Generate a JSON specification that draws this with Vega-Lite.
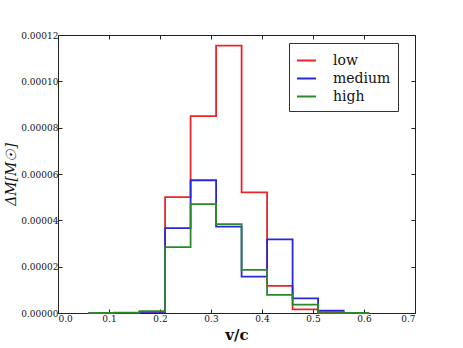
{
  "$schema": "https://vega.github.io/schema/vega-lite/v6.json",
  "autosize": "none",
  "width": 357,
  "height": 278,
  "padding": {"left": 58, "top": 35, "right": 48, "bottom": 35},
  "background": "white",
  "config": {
    "view": {"stroke": "#222", "strokeWidth": 1},
    "font": "DejaVu Serif"
  },
  "data": {
    "values": [
      {"series": "low", "i": 0, "x": 0.06, "y": 0},
      {"series": "low", "i": 1, "x": 0.06, "y": 0},
      {"series": "low", "i": 2, "x": 0.11, "y": 0},
      {"series": "low", "i": 3, "x": 0.16, "y": 0.0000005},
      {"series": "low", "i": 4, "x": 0.21, "y": 0.00005},
      {"series": "low", "i": 5, "x": 0.26, "y": 0.000085},
      {"series": "low", "i": 6, "x": 0.31, "y": 0.0001154},
      {"series": "low", "i": 7, "x": 0.36, "y": 0.0000521},
      {"series": "low", "i": 8, "x": 0.41, "y": 0.0000117},
      {"series": "low", "i": 9, "x": 0.46, "y": 0.0000016},
      {"series": "low", "i": 10, "x": 0.51, "y": 0},
      {"series": "low", "i": 11, "x": 0.56, "y": 0},
      {"series": "low", "i": 12, "x": 0.61, "y": 0},
      {"series": "medium", "i": 0, "x": 0.06, "y": 0},
      {"series": "medium", "i": 1, "x": 0.06, "y": 0},
      {"series": "medium", "i": 2, "x": 0.11, "y": 0},
      {"series": "medium", "i": 3, "x": 0.16, "y": 0.0000005},
      {"series": "medium", "i": 4, "x": 0.21, "y": 0.0000366},
      {"series": "medium", "i": 5, "x": 0.26, "y": 0.0000573},
      {"series": "medium", "i": 6, "x": 0.31, "y": 0.0000373},
      {"series": "medium", "i": 7, "x": 0.36, "y": 0.0000157},
      {"series": "medium", "i": 8, "x": 0.41, "y": 0.0000318},
      {"series": "medium", "i": 9, "x": 0.46, "y": 0.0000063},
      {"series": "medium", "i": 10, "x": 0.51, "y": 0.000001},
      {"series": "medium", "i": 11, "x": 0.56, "y": 0},
      {"series": "medium", "i": 12, "x": 0.61, "y": 0},
      {"series": "high", "i": 0, "x": 0.06, "y": 0},
      {"series": "high", "i": 1, "x": 0.06, "y": 0},
      {"series": "high", "i": 2, "x": 0.11, "y": 0.0000002},
      {"series": "high", "i": 3, "x": 0.16, "y": 0.0000008},
      {"series": "high", "i": 4, "x": 0.21, "y": 0.0000284},
      {"series": "high", "i": 5, "x": 0.26, "y": 0.000047},
      {"series": "high", "i": 6, "x": 0.31, "y": 0.0000384},
      {"series": "high", "i": 7, "x": 0.36, "y": 0.0000186},
      {"series": "high", "i": 8, "x": 0.41, "y": 0.0000078},
      {"series": "high", "i": 9, "x": 0.46, "y": 0.0000036},
      {"series": "high", "i": 10, "x": 0.51, "y": 0.0000005},
      {"series": "high", "i": 11, "x": 0.56, "y": 0},
      {"series": "high", "i": 12, "x": 0.61, "y": 0}
    ]
  },
  "layer": [
    {
      "mark": {"type": "line", "interpolate": "step-after", "strokeWidth": 1.8},
      "encoding": {
        "x": {
          "field": "x", "type": "quantitative",
          "scale": {"domain": [0, 0.7], "nice": false, "zero": false},
          "axis": {
            "values": [0, 0.1, 0.2, 0.3, 0.4, 0.5, 0.6, 0.7],
            "format": ".1f", "grid": false, "domain": false,
            "tickSize": -4, "tickColor": "#222", "labelPadding": 5,
            "labelFontSize": 9, "labelColor": "#111", "labelFont": "DejaVu Serif",
            "title": "v/c", "titleFont": "DejaVu Serif", "titleFontSize": 15,
            "titleFontWeight": "bold", "titleColor": "#111", "titlePadding": 4
          }
        },
        "y": {
          "field": "y", "type": "quantitative",
          "scale": {"domain": [0, 0.00012], "nice": false},
          "axis": {
            "values": [0, 0.00002, 0.00004, 0.00006, 0.00008, 0.0001, 0.00012],
            "format": ".5f", "grid": false, "domain": false,
            "tickSize": -4, "tickColor": "#222", "labelPadding": 4,
            "labelFontSize": 9, "labelColor": "#111", "labelFont": "DejaVu Serif",
            "title": "ΔM[M☉]", "titleFont": "DejaVu Serif", "titleFontSize": 14,
            "titleFontStyle": "italic", "titleFontWeight": "normal",
            "titleColor": "#111", "titlePadding": 2
          }
        },
        "color": {
          "field": "series", "type": "nominal",
          "scale": {"domain": ["low", "medium", "high"], "range": ["#e8262a", "#2828d8", "#2a8a2a"]},
          "legend": {
            "orient": "none", "legendX": 231, "legendY": 8,
            "title": null, "symbolType": "stroke", "symbolSize": 361,
            "symbolStrokeWidth": 2, "labelFontSize": 14, "labelFont": "DejaVu Serif",
            "labelColor": "#111", "strokeColor": "#333", "fillColor": "white",
            "padding": 7, "rowPadding": 0, "labelOffset": 16, "cornerRadius": 0
          }
        },
        "order": {"field": "i", "type": "quantitative"}
      }
    },
    {
      "mark": {"type": "point", "opacity": 0},
      "encoding": {
        "x": {
          "field": "x", "type": "quantitative",
          "scale": {"domain": [0, 0.7], "nice": false, "zero": false},
          "axis": {"orient": "top", "values": [0, 0.1, 0.2, 0.3, 0.4, 0.5, 0.6, 0.7], "labels": false, "title": null, "grid": false, "domain": false, "tickSize": -4, "tickColor": "#222"}
        },
        "y": {
          "field": "y", "type": "quantitative",
          "scale": {"domain": [0, 0.00012], "nice": false},
          "axis": {"orient": "right", "values": [0, 0.00002, 0.00004, 0.00006, 0.00008, 0.0001, 0.00012], "labels": false, "title": null, "grid": false, "domain": false, "tickSize": -4, "tickColor": "#222"}
        }
      }
    }
  ],
  "resolve": {"axis": {"x": "independent", "y": "independent"}}
}
